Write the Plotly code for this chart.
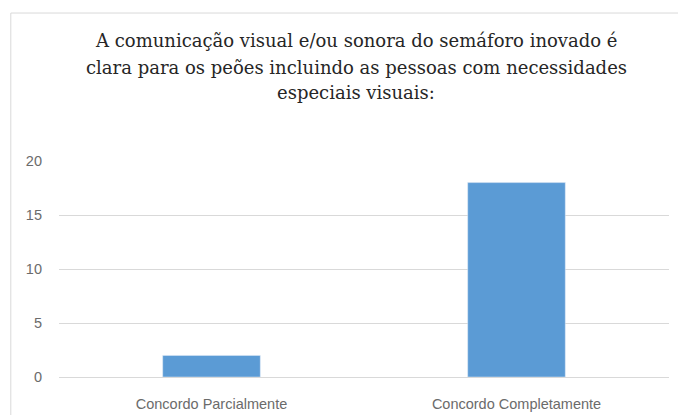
import plotly.graph_objects as go

categories = ["Concordo Parcialmente", "Concordo Completamente"]
values = [2, 18]
y_ticks = [0, 5, 10, 15, 20]
title_lines = ["A comunicação visual e/ou sonora do semáforo inovado é",
               "clara para os peões incluindo as pessoas com necessidades",
               "especiais visuais:"]

fig = go.Figure(go.Bar(x=categories, y=values, marker_color="#5b9bd5", width=0.32))

title_y = [1.556, 1.435, 1.315]
annotations = [dict(text=t, xref="paper", yref="paper", x=0.487, y=yy,
                    xanchor="center", yanchor="middle", showarrow=False,
                    font=dict(family="DejaVu Serif", size=18, color="#262626"))
               for t, yy in zip(title_lines, title_y)]

fig.update_layout(
    width=678, height=415,
    paper_bgcolor="white", plot_bgcolor="white",
    margin=dict(l=59, r=9, t=161, b=38),
    showlegend=False,
    annotations=annotations,
    font=dict(family="Liberation Sans", size=14, color="#6b6b6b"),
    shapes=[dict(type="rect", xref="paper", yref="paper",
                 x0=-0.079, x1=1.05, y0=-0.2, y1=1.685,
                 line=dict(color="#d9d9d9", width=1))],
)
fig.update_xaxes(showgrid=False, showline=True, linecolor="#d9d9d9",
                 ticks="", ticklabelstandoff=14, automargin=False,
                 tickfont=dict(family="Liberation Sans", size=14.5, color="#6b6b6b"))
fig.update_yaxes(range=[0, 20], tickvals=y_ticks, showgrid=True, gridcolor="#d9d9d9",
                 zeroline=False, showline=False, ticks="", ticklabelstandoff=16,
                 automargin=False,
                 tickfont=dict(family="Liberation Sans", size=14.5, color="#6b6b6b"))

fig.write_html("out.html")
